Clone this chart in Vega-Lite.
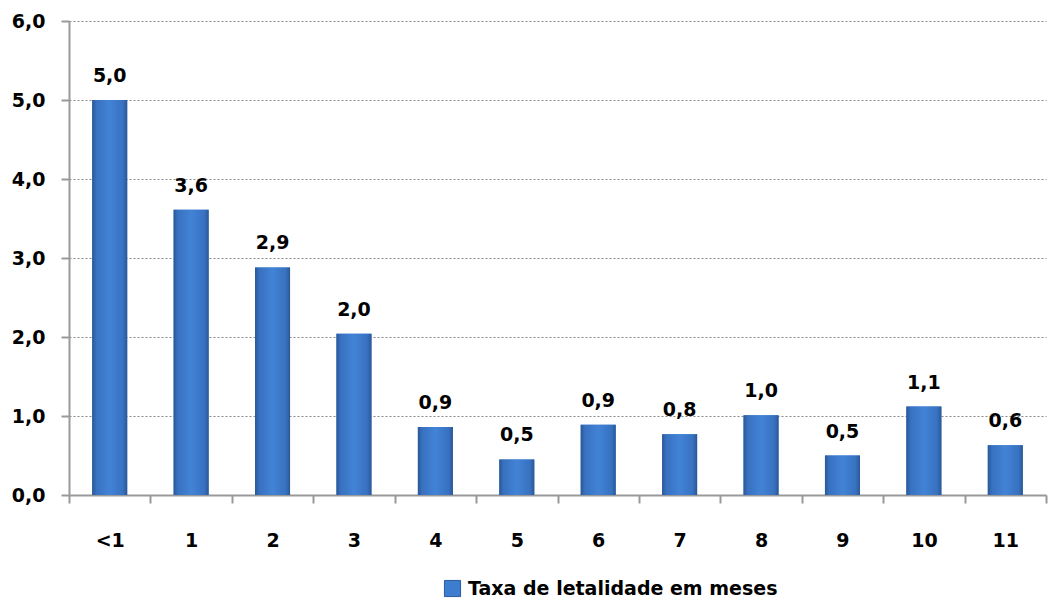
{
  "$schema": "https://vega.github.io/schema/vega-lite/v6.json",
  "width": 977,
  "height": 474,
  "autosize": {"type": "none"},
  "padding": {"left": 69, "top": 21, "right": 9, "bottom": 117},
  "background": "white",
  "data": {
    "values": [
      {"mes": "<1", "v": 5.0, "serie": "Taxa de letalidade em meses"},
      {"mes": "1", "v": 3.61, "serie": "Taxa de letalidade em meses"},
      {"mes": "2", "v": 2.88, "serie": "Taxa de letalidade em meses"},
      {"mes": "3", "v": 2.04, "serie": "Taxa de letalidade em meses"},
      {"mes": "4", "v": 0.86, "serie": "Taxa de letalidade em meses"},
      {"mes": "5", "v": 0.45, "serie": "Taxa de letalidade em meses"},
      {"mes": "6", "v": 0.89, "serie": "Taxa de letalidade em meses"},
      {"mes": "7", "v": 0.77, "serie": "Taxa de letalidade em meses"},
      {"mes": "8", "v": 1.01, "serie": "Taxa de letalidade em meses"},
      {"mes": "9", "v": 0.5, "serie": "Taxa de letalidade em meses"},
      {"mes": "10", "v": 1.12, "serie": "Taxa de letalidade em meses"},
      {"mes": "11", "v": 0.63, "serie": "Taxa de letalidade em meses"}
    ]
  },
  "encoding": {
    "x": {
      "field": "mes",
      "type": "nominal",
      "sort": null,
      "scale": {"paddingInner": 0, "paddingOuter": 0},
      "axis": {
        "title": null,
        "labelAngle": 0,
        "tickBand": "extent",
        "ticks": true,
        "tickSize": 8,
        "tickColor": "#999999",
        "tickWidth": 2,
        "domainColor": "#999999",
        "domainWidth": 2,
        "labelPadding": 28,
        "labelFont": "DejaVu Sans",
        "labelFontWeight": "bold",
        "labelFontSize": 19,
        "labelColor": "#000000",
        "grid": false
      }
    },
    "y": {
      "field": "v",
      "type": "quantitative",
      "scale": {"domain": [0, 6], "nice": false},
      "axis": {
        "title": null,
        "values": [0, 1, 2, 3, 4, 5, 6],
        "format": ".1f",
        "grid": true,
        "gridColor": "#888888",
        "gridDash": [2, 2],
        "gridWidth": 1,
        "tickSize": 8,
        "tickColor": "#999999",
        "tickWidth": 2,
        "domainColor": "#999999",
        "domainWidth": 2,
        "labelPadding": 16,
        "labelFont": "DejaVu Sans",
        "labelFontWeight": "bold",
        "labelFontSize": 19,
        "labelColor": "#000000"
      }
    }
  },
  "layer": [
    {
      "mark": {"type": "bar", "width": {"band": 0.43}},
      "encoding": {
        "color": {
          "field": "serie",
          "type": "nominal",
          "scale": {"range": ["#3d7dd0"]},
          "legend": {
            "title": null,
            "orient": "none",
            "legendX": 374,
            "legendY": 558,
            "symbolType": "square",
            "symbolSize": 260,
            "symbolStrokeColor": "#2b5a9c",
            "symbolStrokeWidth": 1,
            "labelFont": "DejaVu Sans",
            "labelFontWeight": "bold",
            "labelFontSize": 19,
            "labelColor": "#000000",
            "labelOffset": 6,
            "labelLimit": 0
          }
        }
      }
    },
    {
      "mark": {
        "type": "bar",
        "width": {"band": 0.43},
        "fill": {
          "gradient": "linear",
          "x1": 0, "x2": 1, "y1": 0, "y2": 0,
          "stops": [
            {"offset": 0, "color": "#2a5796"},
            {"offset": 0.12, "color": "#3871c0"},
            {"offset": 0.5, "color": "#4283d6"},
            {"offset": 0.88, "color": "#3871c0"},
            {"offset": 1, "color": "#2a5796"}
          ]
        }
      },
      "encoding": {}
    },
    {
      "mark": {
        "type": "text",
        "baseline": "alphabetic",
        "dy": -18,
        "font": "DejaVu Sans",
        "fontWeight": "bold",
        "fontSize": 19,
        "color": "#000000"
      },
      "encoding": {
        "text": {"field": "v", "type": "quantitative", "format": ".1f"}
      }
    }
  ],
  "config": {
    "view": {"stroke": null},
    "locale": {
      "number": {
        "decimal": ",",
        "thousands": ".",
        "grouping": [3],
        "currency": ["", ""]
      }
    }
  }
}
